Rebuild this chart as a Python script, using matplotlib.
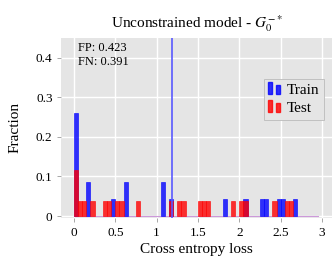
import matplotlib
matplotlib.use("Agg")
import matplotlib.pyplot as plt
from matplotlib.patches import Rectangle
from matplotlib.legend_handler import HandlerBase
from matplotlib.ticker import FuncFormatter

plt.rcParams['font.family'] = ['Liberation Serif', 'DejaVu Serif']
plt.rcParams['mathtext.fontset'] = 'stix'

bin_width = 0.05
train_bins = [0.0, 0.15, 0.45, 0.60, 1.05, 1.15, 1.80, 2.05, 2.25, 2.30, 2.45, 2.50, 2.65]
train_frac = [0.26, 0.087, 0.043, 0.087, 0.087, 0.043, 0.043, 0.043, 0.043, 0.043, 0.043, 0.043, 0.043]
test_bins = [0.0, 0.05, 0.10, 0.20, 0.35, 0.40, 0.50, 0.55, 0.75, 1.15, 1.25, 1.30,
             1.50, 1.55, 1.60, 1.90, 2.00, 2.05, 2.40, 2.55, 2.60]
test_frac = [0.115] + [0.038] * 20
threshold = 1.18
fp_rate = 0.423
fn_rate = 0.391
hist_range = (0.0, 2.95)
xticks = [0, 0.5, 1, 1.5, 2, 2.5, 3]
yticks = [0, 0.1, 0.2, 0.3, 0.4]

blue = (0, 0, 1, 0.8)
red = (1, 0, 0, 0.8)

fig = plt.figure(figsize=(3.33, 2.66), dpi=100)
ax = fig.add_axes([0.183, 0.182, 0.814, 0.676])
ax.set_facecolor('#e5e5e5')
for s in ax.spines.values():
    s.set_visible(False)
ax.grid(True, color='white', lw=1.0)
ax.set_axisbelow(True)

ax.plot(hist_range, [0, 0], color=(0.8, 0.6, 0.85), lw=0.8, zorder=2)
b1 = ax.bar(train_bins, train_frac, width=bin_width, align='edge', color=blue,
            edgecolor=blue, lw=0.5, zorder=3)
b2 = ax.bar(test_bins, test_frac, width=bin_width, align='edge', color=red,
            edgecolor=red, lw=0.5, zorder=4)
ax.axvline(threshold, color=(0.35, 0.35, 1.0), lw=1.2, zorder=5)

ax.set_xlim(-0.157, 3.12)
ax.set_ylim(-0.004, 0.45)
ax.set_xticks(xticks)
ax.set_yticks(yticks)
ax.xaxis.set_major_formatter(FuncFormatter(lambda v, p: f"{v:g}"))
ax.yaxis.set_major_formatter(FuncFormatter(lambda v, p: f"{v:g}"))
ax.tick_params(axis='both', labelsize=9.5, color='#999999', length=3, width=0.6)
ax.tick_params(axis='x', pad=4)
ax.tick_params(axis='y', pad=3)

ax.set_xlabel('Cross entropy loss', fontsize=11, labelpad=3)
ax.set_ylabel('Fraction', fontsize=11, labelpad=10)
ax.set_title('Unconstrained model - $G_0^{-*}$', fontsize=11, pad=7)

ax.text(0.063, 0.975, f'FP: {fp_rate:.3f}\nFN: {fn_rate:.3f}', transform=ax.transAxes,
        fontsize=9, va='top', ha='left', linespacing=1.2)


class TwoBarHandler(HandlerBase):
    def __init__(self, color):
        super().__init__()
        self.color = color

    def create_artists(self, legend, orig_handle, xdescent, ydescent, width, height, fontsize, trans):
        w = width * 0.28
        r1 = Rectangle((-xdescent, -ydescent), w, height * 1.1, facecolor=self.color,
                       edgecolor=self.color, transform=trans)
        r2 = Rectangle((-xdescent + width * 0.55, -ydescent), w, height * 0.85, facecolor=self.color,
                       edgecolor=self.color, transform=trans)
        return [r1, r2]


h1 = Rectangle((0, 0), 1, 1)
h2 = Rectangle((0, 0), 1, 1)
leg = ax.legend([h1, h2], ['Train', 'Test'], loc='upper left', bbox_to_anchor=(0.72, 0.815),
                fontsize=11, handlelength=0.9, handletextpad=0.3, borderpad=0.3,
                labelspacing=0.3, fancybox=False, framealpha=1,
                handler_map={h1: TwoBarHandler(blue), h2: TwoBarHandler(red)})
leg.get_frame().set_facecolor('#e5e5e5')
leg.get_frame().set_edgecolor('#bbbbbb')
leg.get_frame().set_linewidth(0.6)

fig.savefig('out.png', dpi=100)
